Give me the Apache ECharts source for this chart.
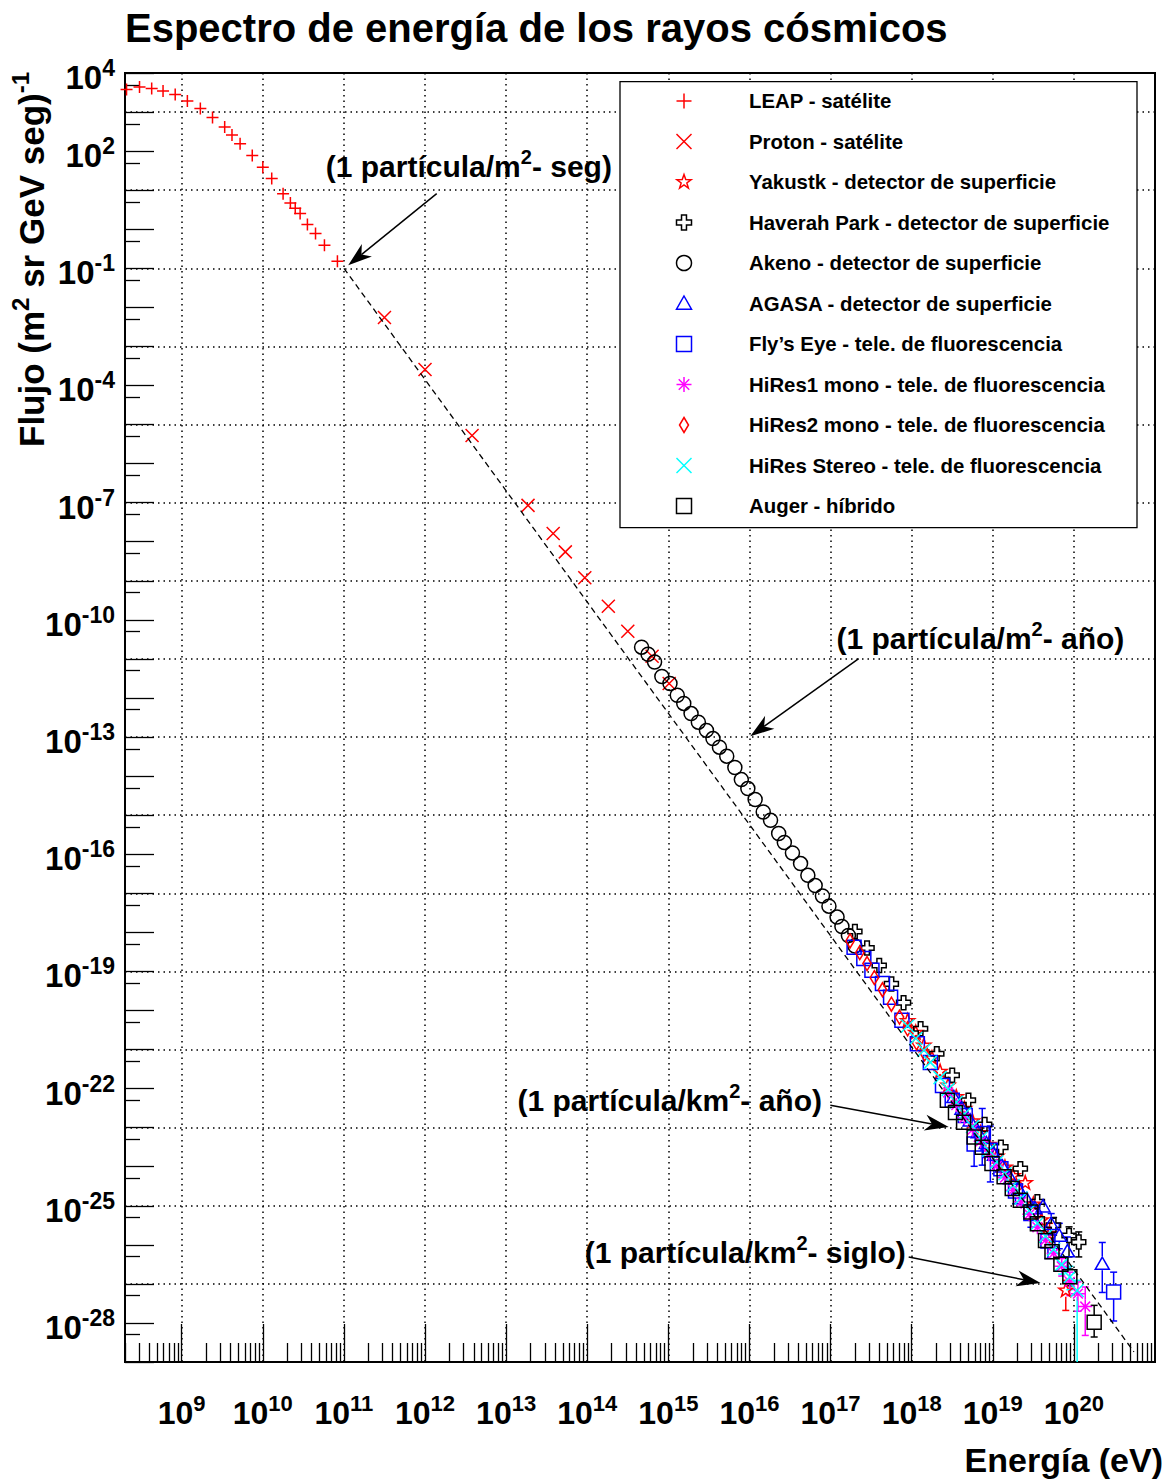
<!DOCTYPE html>
<html>
<head>
<meta charset="utf-8">
<title>Espectro de energía de los rayos cósmicos</title>
<script src="https://cdn.jsdelivr.net/npm/echarts@6/dist/echarts.min.js"></script>
<style>
  html, body { margin: 0; padding: 0; background: #fff; }
  #chart { width: 1170px; height: 1479px; }
</style>
</head>
<body>
<div id="chart"></div>
<script>
// Every point is [log10(E / eV), log10(flux / m^-2 sr^-1 GeV^-1 s^-1)]
// and, where an error bar is drawn, [.., .., log10 upper, log10 lower].

const leap = [
  [8.32, 3.58], [8.48, 3.64], [8.63, 3.60], [8.77, 3.54], [8.92, 3.45], [9.07, 3.28],
  [9.23, 3.09], [9.38, 2.86], [9.53, 2.62], [9.62, 2.41], [9.72, 2.19], [9.87, 1.89],
  [10.00, 1.59], [10.11, 1.30], [10.25, 0.91], [10.34, 0.67], [10.40, 0.54], [10.46, 0.40],
  [10.55, 0.12], [10.65, -0.11], [10.76, -0.41], [10.92, -0.82]
];

const proton = [
  [11.50, -2.26], [12.00, -3.59], [12.58, -5.28], [13.27, -7.07], [13.58, -7.79], [13.73, -8.26],
  [13.97, -8.92], [14.26, -9.65], [14.50, -10.29], [14.80, -10.93], [15.01, -11.63]
];

const yakutsk = [
  [17.95, -20.25], [18.05, -20.55], [18.15, -20.88], [18.25, -21.20], [18.35, -21.55], [18.45, -21.90],
  [18.55, -22.20], [18.65, -22.50], [18.75, -22.82], [18.85, -23.12], [18.95, -23.42], [19.05, -23.72],
  [19.15, -24.00], [19.25, -24.22], [19.40, -24.40], [19.50, -24.95], [19.60, -25.35],
  [19.70, -25.70, -25.45, -25.95], [19.90, -27.15, -26.91, -27.68]
];

const haverah = [
  [17.30, -17.98], [17.45, -18.40], [17.60, -18.85], [17.75, -19.32], [17.90, -19.80], [18.11, -20.47],
  [18.31, -21.11], [18.50, -21.66], [18.70, -22.30], [18.90, -22.92], [19.10, -23.50], [19.34, -24.05],
  [19.55, -24.90], [19.75, -25.50, -25.30, -25.75], [19.94, -25.76, -25.54, -26.31],
  [20.06, -25.93, -25.67, -26.31]
];

const akeno = [
  [14.67, -10.70], [14.75, -10.88], [14.83, -11.08], [14.92, -11.45], [15.02, -11.63], [15.11, -11.93],
  [15.19, -12.14], [15.28, -12.40], [15.37, -12.62], [15.47, -12.83], [15.55, -13.04], [15.63, -13.26],
  [15.72, -13.49], [15.82, -13.78], [15.90, -14.09], [15.98, -14.32], [16.07, -14.60], [16.17, -14.92],
  [16.26, -15.13], [16.36, -15.47], [16.43, -15.70], [16.53, -15.97], [16.63, -16.24], [16.72, -16.54],
  [16.81, -16.80], [16.90, -17.07], [16.98, -17.33], [17.08, -17.61], [17.14, -17.85], [17.22, -18.08],
  [17.30, -18.35]
];

const agasa = [
  [18.52, -22.20], [18.62, -22.50], [18.72, -22.80], [18.82, -23.10], [18.92, -23.38], [19.02, -23.68],
  [19.12, -23.98], [19.22, -24.28], [19.32, -24.55], [19.42, -24.82], [19.52, -25.05], [19.62, -25.00],
  [19.72, -25.45, -25.20, -25.75], [19.82, -25.75, -25.45, -26.10], [19.92, -26.15, -25.80, -26.60],
  [20.35, -26.47, -25.94, -27.22]
];

const flysEye = [
  [17.29, -18.38], [17.41, -18.67], [17.51, -18.97], [17.64, -19.31], [17.74, -19.66], [17.88, -20.25],
  [18.07, -20.85], [18.23, -21.33], [18.38, -21.92], [18.50, -22.30], [18.66, -22.69],
  [18.77, -23.42, -23.07, -23.99], [18.87, -23.15, -22.51, -23.96], [18.97, -23.58, -22.96, -24.39],
  [19.10, -24.05], [19.28, -24.62, -24.35, -24.95], [19.47, -25.20, -24.90, -25.55],
  [19.68, -25.90, -25.55, -26.35], [20.49, -27.21, -26.70, -27.95]
];

const hires1 = [
  [18.45, -22.10], [18.55, -22.42], [18.65, -22.75], [18.75, -23.05], [18.85, -23.35], [18.95, -23.68],
  [19.05, -23.98], [19.15, -24.28], [19.25, -24.60], [19.35, -24.90], [19.45, -25.22], [19.55, -25.55],
  [19.65, -25.88], [19.75, -26.22], [19.85, -26.55, -26.35, -26.80], [19.95, -26.95, -26.70, -27.30],
  [20.05, -27.25, -26.95, -27.70], [20.14, -27.58, -27.08, -28.32]
];

const hires2 = [
  [17.24, -18.22], [17.36, -18.52], [17.45, -18.80], [17.54, -19.16], [17.64, -19.47],
  [17.75, -19.84], [17.85, -20.17], [17.95, -20.47], [18.06, -20.83], [18.16, -21.11]
];

const hiresStereo = [
  [17.95, -20.40], [18.05, -20.72], [18.15, -21.02], [18.23, -21.33], [18.35, -21.72], [18.45, -22.02],
  [18.55, -22.35], [18.65, -22.65], [18.75, -22.97], [18.85, -23.28], [18.95, -23.58], [19.05, -23.88],
  [19.15, -24.18], [19.25, -24.48], [19.35, -24.80], [19.45, -25.12], [19.55, -25.45], [19.65, -25.78],
  [19.75, -26.12], [19.85, -26.50, -26.30, -26.75], [19.95, -26.82, -26.55, -27.15],
  [20.04, -27.17, -26.91, -40]
];

const auger = [
  [18.44, -22.30], [18.54, -22.61], [18.64, -22.86], [18.77, -23.24], [18.87, -23.50], [18.99, -23.92],
  [19.14, -24.26], [19.24, -24.56], [19.34, -24.86], [19.47, -25.16], [19.55, -25.46], [19.65, -25.89],
  [19.73, -26.18], [19.84, -26.50, -26.35, -26.65], [19.95, -26.82, -26.62, -27.05],
  [20.25, -27.98, -27.55, -28.36]
];

// Reference power law drawn as a dashed line
const powerLaw = [[11.0, -1.0], [20.74, -28.74]];

// Axis ranges (log10 units) and labelled decades
const X_MIN = 8.301, X_MAX = 21;
const Y_MIN = -29, Y_MAX = 4;
const xTickExp = [9, 10, 11, 12, 13, 14, 15, 16, 17, 18, 19, 20];
const yLabelExp = [4, 2, -1, -4, -7, -10, -13, -16, -19, -22, -25, -28];

const legendNames = [
  'LEAP - satélite',
  'Proton - satélite',
  'Yakustk - detector de superficie',
  'Haverah Park - detector de superficie',
  'Akeno - detector de superficie',
  'AGASA - detector de superficie',
  'Fly’s Eye - tele. de fluorescencia',
  'HiRes1 mono - tele. de fluorescencia',
  'HiRes2 mono - tele. de fluorescencia',
  'HiRes Stereo - tele. de fluorescencia',
  'Auger - híbrido'
];

// Labels with arrows: text pieces [base, superscript, base], text centre, arrow tail, arrow tip
const notes = [
  { parts: ['(1 partícula/m', '2', '- seg)'], at: [12.54, 1.611], from: [12.144, 0.912], to: [11.053, -0.923] },
  { parts: ['(1 partícula/m', '2', '- año)'], at: [18.848, -10.473], from: [17.347, -10.992], to: [16.010, -12.982] },
  { parts: ['(1 partícula/km', '2', '- año)'], at: [15.017, -22.301], from: [16.997, -22.429], to: [18.457, -22.984] },
  { parts: ['(1 partícula/km', '2', '- siglo)'], at: [15.948, -26.192], from: [17.963, -26.312], to: [19.589, -26.978] }
];

// ---------------------------------------------------------------------------
const FONT = '"Liberation Sans", Arial, Helvetica, sans-serif';
const RED = '#ff0000', BLACK = '#000000', BLUE = '#0000ff', MAGENTA = '#ff00ff', CYAN = '#00ffff';

// Marker outlines in a unit box: strokes (lines), closed outlines (poly) or a circle
const SHAPES = {
  plus: { lines: [[0, -1, 0, 1], [-1, 0, 1, 0]] },
  cross: { lines: [[-1, -1, 1, 1], [-1, 1, 1, -1]] },
  star: { poly: [[0, -1], [0.235, -0.324], [0.951, -0.309], [0.38, 0.124], [0.588, 0.809], [0, 0.4],
                 [-0.588, 0.809], [-0.38, 0.124], [-0.951, -0.309], [-0.235, -0.324]] },
  openCross: { poly: [[-0.33, -1], [0.33, -1], [0.33, -0.33], [1, -0.33], [1, 0.33], [0.33, 0.33],
                      [0.33, 1], [-0.33, 1], [-0.33, 0.33], [-1, 0.33], [-1, -0.33], [-0.33, -0.33]] },
  circle: { circle: true },
  triangle: { poly: [[0, -1], [1, 0.75], [-1, 0.75]] },
  square: { poly: [[-1, -1], [1, -1], [1, 1], [-1, 1]] },
  asterisk: { lines: [[0, -1, 0, 1], [-1, 0, 1, 0], [-0.7, -0.7, 0.7, 0.7], [-0.7, 0.7, 0.7, -0.7]] },
  diamond: { poly: [[0, -1], [0.6, 0], [0, 1], [-0.6, 0]] }
};

function shapePath(s) {
  if (s.circle) return 'M-1,0A1,1,0,1,1,1,0A1,1,0,1,1,-1,0Z';
  if (s.lines) return s.lines.map(l => 'M' + l[0] + ',' + l[1] + 'L' + l[2] + ',' + l[3]).join('');
  return 'M' + s.poly.map(p => p[0] + ',' + p[1]).join('L') + 'Z';
}

function shapeGraphics(s, cx, cy, r, color, z) {
  const st = { stroke: color, fill: 'none', lineWidth: 1.5 };
  if (s.circle) return [{ type: 'circle', z, shape: { cx, cy, r }, style: st }];
  if (s.lines) return s.lines.map(l => ({
    type: 'line', z, shape: { x1: cx + r * l[0], y1: cy + r * l[1], x2: cx + r * l[2], y2: cy + r * l[3] }, style: st
  }));
  return [{ type: 'polygon', z, shape: { points: s.poly.map(p => [cx + r * p[0], cy + r * p[1]]) }, style: st }];
}

const experiments = [
  { name: legendNames[0], data: leap, shape: SHAPES.plus, color: RED, size: 12 },
  { name: legendNames[1], data: proton, shape: SHAPES.cross, color: RED, size: 13 },
  { name: legendNames[2], data: yakutsk, shape: SHAPES.star, color: RED, size: 14 },
  { name: legendNames[3], data: haverah, shape: SHAPES.openCross, color: BLACK, size: 14 },
  { name: legendNames[4], data: akeno, shape: SHAPES.circle, color: BLACK, size: 14 },
  { name: legendNames[5], data: agasa, shape: SHAPES.triangle, color: BLUE, size: 14 },
  { name: legendNames[6], data: flysEye, shape: SHAPES.square, color: BLUE, size: 14 },
  { name: legendNames[7], data: hires1, shape: SHAPES.asterisk, color: MAGENTA, size: 14 },
  { name: legendNames[8], data: hires2, shape: SHAPES.diamond, color: RED, size: 14 },
  { name: legendNames[9], data: hiresStereo, shape: SHAPES.cross, color: CYAN, size: 13 },
  { name: legendNames[10], data: auger, shape: SHAPES.square, color: BLACK, size: 14 }
];

// Tick positions
const range = (a, b) => { const r = []; for (let i = a; i <= b; i++) r.push(i); return r; };
const xMinor = [];
range(8, 20).forEach(n => { for (let k = 2; k <= 9; k++) { const v = n + Math.log10(k); if (v > X_MIN && v < X_MAX) xMinor.push(v); } });
const yMajor = range(Y_MIN, Y_MAX);
const yMinor = range(Y_MIN, Y_MAX - 1).map(n => n + Math.log10(5));
const yGrid = range(Y_MIN, Y_MAX).filter(n => Math.abs(n % 2) === 1);

function supRich(base, sup, raise) {
  return {
    b: { fontFamily: FONT, fontWeight: 'bold', fontSize: base, lineHeight: base, color: '#000', padding: [raise, 0, 0, 0] },
    s: { fontFamily: FONT, fontWeight: 'bold', fontSize: sup, lineHeight: sup, color: '#000', verticalAlign: 'top' }
  };
}
const powerLabel = v => '{b|10}{s|' + Math.round(v) + '}';
const X_RICH = supRich(32, 22, 9);
const Y_RICH = supRich(33, 23, 9);

const gridLine = { color: '#000', width: 1.5, type: [1.5, 4] };
const tickStyle = { color: '#000', width: 1.3 };

function errorBars(exp) {
  const pts = exp.data.filter(p => p.length === 4);
  const half = exp.size / 2, cap = 3.5;
  const st = { stroke: exp.color, lineWidth: 1.5 };
  return {
    type: 'custom', name: exp.name + ' err', xAxisIndex: 0, yAxisIndex: 0,
    data: pts, clip: true, silent: true,
    renderItem(params, api) {
      const c = api.coord([api.value(0), api.value(1)]);
      const pu = api.coord([api.value(0), api.value(2)]);
      const pl = api.coord([api.value(0), api.value(3)]);
      const ch = [];
      if (pu[1] < c[1] - half) {
        ch.push({ type: 'line', shape: { x1: c[0], y1: c[1] - half, x2: c[0], y2: pu[1] }, style: st });
        ch.push({ type: 'line', shape: { x1: c[0] - cap, y1: pu[1], x2: c[0] + cap, y2: pu[1] }, style: st });
      }
      if (pl[1] > c[1] + half) {
        ch.push({ type: 'line', shape: { x1: c[0], y1: c[1] + half, x2: c[0], y2: pl[1] }, style: st });
        ch.push({ type: 'line', shape: { x1: c[0] - cap, y1: pl[1], x2: c[0] + cap, y2: pl[1] }, style: st });
      }
      return { type: 'group', children: ch };
    }
  };
}

function markers(exp) {
  return {
    type: 'scatter', name: exp.name, xAxisIndex: 0, yAxisIndex: 0,
    data: exp.data.map(p => [p[0], p[1]]),
    symbol: 'path://' + shapePath(exp.shape), symbolSize: exp.size, symbolKeepAspect: true,
    itemStyle: { color: 'none', borderColor: exp.color, borderWidth: 1.5, opacity: 1 },
    clip: false, silent: true
  };
}

const series = [{
  type: 'line', name: 'power law', xAxisIndex: 0, yAxisIndex: 0, data: powerLaw,
  symbol: 'none', silent: true,
  lineStyle: { color: '#000', width: 1.3, type: [6, 4] }
}];
experiments.forEach(e => {
  if (e.data.some(p => p.length === 4)) series.push(errorBars(e));
  series.push(markers(e));
});

const option = {
  animation: false,
  backgroundColor: '#fff',
  grid: { left: 125, right: 15, top: 73, bottom: 117, show: true, borderColor: '#000', borderWidth: 2,
          backgroundColor: 'transparent', containLabel: false, outerBoundsMode: 'none' },
  xAxis: [
    {
      type: 'value', position: 'bottom', min: X_MIN, max: X_MAX,
      axisLine: { show: true, onZero: false, lineStyle: { color: '#000', width: 2 } },
      axisTick: { show: true, inside: true, length: 38, customValues: xTickExp, lineStyle: tickStyle },
      axisLabel: { show: true, customValues: xTickExp, margin: 30, formatter: powerLabel, rich: X_RICH },
      splitLine: { show: true, lineStyle: gridLine }
    },
    {
      type: 'value', position: 'bottom', min: X_MIN, max: X_MAX,
      axisLine: { show: false, onZero: false },
      axisTick: { show: true, inside: true, length: 19, customValues: xMinor, lineStyle: tickStyle },
      axisLabel: { show: false }, splitLine: { show: false }
    }
  ],
  yAxis: [
    {
      type: 'value', position: 'left', min: Y_MIN, max: Y_MAX,
      axisLine: { show: true, onZero: false, lineStyle: { color: '#000', width: 2 } },
      axisTick: { show: true, inside: true, length: 29, customValues: yMajor, lineStyle: tickStyle },
      axisLabel: { show: true, customValues: yLabelExp, margin: 10, formatter: powerLabel, rich: Y_RICH },
      splitLine: { show: false }
    },
    {
      type: 'value', position: 'left', min: Y_MIN, max: Y_MAX,
      axisLine: { show: false, onZero: false },
      axisTick: { show: true, inside: true, length: 15, customValues: yMinor, lineStyle: tickStyle },
      axisLabel: { show: false }, splitLine: { show: false }
    },
    {
      type: 'value', position: 'left', min: Y_MIN, max: Y_MAX,
      axisLine: { show: false, onZero: false },
      axisTick: { show: false, customValues: yGrid },
      axisLabel: { show: false },
      splitLine: { show: true, lineStyle: gridLine }
    }
  ],
  series
};

const chart = echarts.init(document.getElementById('chart'), null, { renderer: 'svg' });
chart.setOption(option);

// ---- texts, arrows and legend box ----
const toPx = p => chart.convertToPixel({ seriesIndex: 0 }, p);
const graphics = [];

graphics.push({
  type: 'text', z: 100, style: {
    text: 'Espectro de energía de los rayos cósmicos', x: 125, y: 28,
    fontFamily: FONT, fontWeight: 'bold', fontSize: 40, fill: '#000', verticalAlign: 'middle'
  }
});
graphics.push({
  type: 'text', z: 100, style: {
    text: 'Energía (eV)', x: 1163, y: 1460, align: 'right', verticalAlign: 'middle',
    fontFamily: FONT, fontWeight: 'bold', fontSize: 34, fill: '#000'
  }
});
graphics.push({
  type: 'text', z: 100, x: 26, y: 447, rotation: Math.PI / 2, style: {
    text: '{b|Flujo (m}{s|2}{b| sr GeV seg)}{s|-1}', x: 0, y: 0, align: 'left', verticalAlign: 'middle',
    rich: supRich(35, 24, 10)
  }
});

notes.forEach(n => {
  const c = toPx(n.at);
  const raise = 8;
  graphics.push({
    type: 'text', z: 100, style: {
      text: '{b|' + n.parts[0] + '}{s|' + n.parts[1] + '}{b|' + n.parts[2] + '}',
      x: c[0], y: c[1] - raise / 2, align: 'center', verticalAlign: 'middle',
      rich: supRich(30, 20, raise)
    }
  });
  const a = toPx(n.from), b = toPx(n.to);
  const dx = b[0] - a[0], dy = b[1] - a[1], L = Math.hypot(dx, dy);
  const ux = dx / L, uy = dy / L;
  const len = 24, hw = 8, notch = 17;
  const base = [b[0] - ux * len, b[1] - uy * len];
  const nt = [b[0] - ux * notch, b[1] - uy * notch];
  graphics.push({ type: 'line', z: 100, shape: { x1: a[0], y1: a[1], x2: nt[0], y2: nt[1] }, style: { stroke: '#000', lineWidth: 1.5 } });
  graphics.push({
    type: 'polygon', z: 100,
    shape: { points: [b, [base[0] - uy * hw, base[1] + ux * hw], nt, [base[0] + uy * hw, base[1] - ux * hw]] },
    style: { fill: '#000' }
  });
});

// Legend box
const LG = { x: 620, y: 81.7, w: 517, h: 446, markX: 684, textX: 749, first: 101, step: 40.5, r: 7.5 };
graphics.push({
  type: 'rect', z: 110, shape: { x: LG.x, y: LG.y, width: LG.w, height: LG.h },
  style: { fill: '#fff', stroke: '#000', lineWidth: 1.3 }
});
experiments.forEach((e, i) => {
  const cy = LG.first + i * LG.step;
  shapeGraphics(e.shape, LG.markX, cy, LG.r, e.color, 111).forEach(g => graphics.push(g));
  graphics.push({
    type: 'text', z: 111, style: {
      text: e.name, x: LG.textX, y: cy, verticalAlign: 'middle',
      fontFamily: FONT, fontWeight: 'bold', fontSize: 20.4, fill: '#000'
    }
  });
});

chart.setOption({ graphic: graphics });
</script>
</body>
</html>
